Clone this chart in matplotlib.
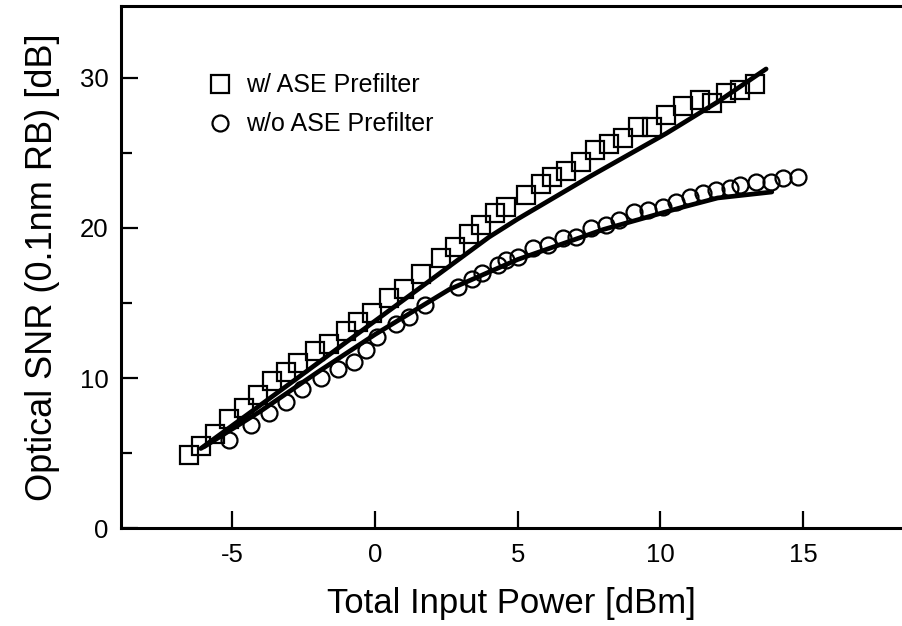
import numpy as np
import matplotlib
matplotlib.use("Agg")
import matplotlib.pyplot as plt

plt.rcParams['font.family'] = ['Liberation Sans', 'DejaVu Sans']
plt.rcParams['axes.unicode_minus'] = False

# w/ ASE prefilter (squares)
x_with = [-6.5, -6.1, -5.6, -5.1, -4.6, -4.1, -3.6, -3.1, -2.7, -2.1, -1.6, -1.0, -0.6, -0.1,
          0.5, 1.0, 1.6, 2.3, 2.8, 3.3, 3.7, 4.2, 4.6, 5.3, 5.8, 6.2, 6.7, 7.2, 7.7, 8.2,
          8.7, 9.2, 9.7, 10.2, 10.8, 11.4, 11.8, 12.3, 12.8, 13.3]
y_with = [4.9, 5.5, 6.3, 7.3, 8.0, 8.9, 9.8, 10.4, 11.0, 11.8, 12.3, 13.1, 13.7, 14.3,
          15.3, 15.9, 16.9, 18.0, 18.7, 19.6, 20.2, 21.0, 21.4, 22.2, 22.9, 23.4, 23.8, 24.4, 25.2, 25.6,
          26.0, 26.7, 26.7, 27.5, 28.1, 28.5, 28.3, 29.0, 29.2, 29.6]

# w/o ASE prefilter (circles)
x_without = [-5.1, -4.35, -3.7, -3.13, -2.57, -1.9, -1.3, -0.74, -0.3, 0.08, 0.75, 1.2, 1.75,
             2.9, 3.4, 3.76, 4.3, 4.6, 5.0, 5.52, 6.05, 6.57, 7.04, 7.57, 8.1, 8.56, 9.09,
             9.55, 10.08, 10.55, 11.05, 11.48, 11.95, 12.42, 12.8, 13.36, 13.88, 14.3, 14.82]
y_without = [5.9, 6.9, 7.7, 8.4, 9.25, 9.98, 10.6, 11.1, 11.87, 12.75, 13.6, 14.05, 14.87,
             16.09, 16.6, 17.0, 17.53, 17.87, 18.05, 18.65, 18.87, 19.31, 19.42, 19.98, 20.2, 20.53, 21.09,
             21.2, 21.42, 21.75, 22.09, 22.31, 22.53, 22.65, 22.87, 23.09, 23.09, 23.3, 23.42]

# fitted curves
fit_with_x = [-6.1, -3.0, 0.0, 2.0, 4.0, 5.0, 7.5, 10.2, 12.0, 13.7]
fit_with_y = [5.3, 9.6, 13.8, 16.6, 19.4, 20.6, 23.4, 26.3, 28.4, 30.6]
fit_without_x = [-6.0, -4.0, -2.0, 0.0, 2.6, 5.0, 8.0, 10.8, 12.0, 13.9]
fit_without_y = [5.4, 7.8, 10.4, 12.9, 15.9, 17.9, 19.9, 21.4, 22.0, 22.4]

fig = plt.figure(figsize=(9.02, 6.26), dpi=100)
ax = fig.add_axes([0.134, 0.1565, 0.866, 0.834])

ax.plot(fit_with_x, fit_with_y, color='black', lw=3.4, solid_capstyle='round', zorder=3)
ax.plot(fit_without_x, fit_without_y, color='black', lw=3.4, solid_capstyle='round', zorder=3)
ax.plot(x_with, y_with, linestyle='none', marker='s', ms=13.5, mfc='none', mec='black', mew=1.6,
        label='w/ ASE Prefilter', zorder=2)
ax.plot(x_without, y_without, linestyle='none', marker='o', ms=11.5, mfc='none', mec='black', mew=1.6,
        label='w/o ASE Prefilter', zorder=2)

ax.set_xlim(-8.9, 18.46)
ax.set_ylim(0, 34.8)
ax.set_xticks([-5, 0, 5, 10, 15])
ax.set_yticks([0, 10, 20, 30])
ax.set_yticks([5, 15, 25], minor=True)
ax.tick_params(axis='both', which='major', direction='in', length=12, width=1.6, labelsize=18.5)
ax.tick_params(axis='x', pad=11)
ax.tick_params(axis='y', pad=9)
ax.tick_params(axis='y', which='minor', direction='in', length=8, width=1.6)

for s in ['left', 'bottom', 'top']:
    ax.spines[s].set_linewidth(2.2)
ax.spines['right'].set_visible(False)

ax.set_xlabel('Total Input Power [dBm]', fontsize=25, labelpad=14)
ax.set_ylabel('Optical SNR (0.1nm RB) [dB]', fontsize=26, labelpad=14)

ax.legend(loc='upper left', bbox_to_anchor=(0.098, 0.89), frameon=False, fontsize=18,
          handletextpad=0.55, labelspacing=0.6, handlelength=1.0, borderaxespad=0)

fig.savefig('out.png', dpi=100)
